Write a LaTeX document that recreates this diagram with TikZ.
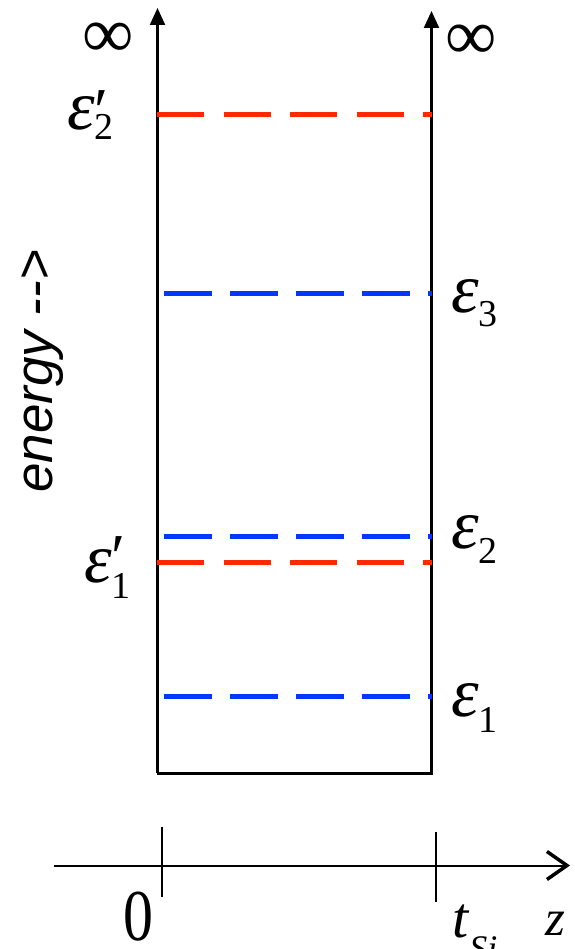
\documentclass[tikz,border=0pt]{standalone}
\usepackage{fontspec}
\setmainfont{Liberation Serif}
\newfontfamily\sansfam{Liberation Sans}
\usetikzlibrary{arrows.meta}
\definecolor{lvred}{RGB}{255,40,0}
\definecolor{lvblue}{RGB}{0,56,255}
% level label: digit, subscript drop
\newcommand\levlab[2]{\fontsize{70}{70}\selectfont\textit{ε}\raisebox{-#2}{\fontsize{38}{38}\selectfont #1}}
% primed level label: digit, subscript drop, prime raise
\newcommand\levlabp[3]{\fontsize{70}{70}\selectfont\textit{ε}\rlap{\raisebox{#3}{\fontsize{64}{64}\selectfont ′}}\raisebox{-#2}{\fontsize{38}{38}\selectfont #1}}
\begin{document}
\begin{tikzpicture}[x=1pt,y=-1pt,
  wall/.style={line width=2.2pt,-{Triangle[length=17pt,width=15pt]}},
  redlev/.style={lvred,line width=5pt,dash pattern=on 47pt off 19.5pt},
  bluelev/.style={lvblue,line width=5pt,dash pattern=on 48pt off 18pt},
  lab/.style={inner sep=0pt,anchor=base west},
  inf/.style={inner sep=0pt,font=\fontsize{72}{72}\selectfont},
  tick/.style={line width=2pt}]
\useasboundingbox (0,0) rectangle (574,949);
% well walls
\coordinate (lb) at (157.5,773);
\coordinate (lt) at (157.5,8);
\coordinate (rb) at (431.5,773);
\coordinate (rt) at (431.5,11);
\draw[wall] (lb) -- (lt);
\draw[wall] (rb) -- (rt);
\draw[line width=3pt] ([xshift=-1pt]lb) -- ([xshift=1pt]rb);
% levels
\coordinate (r2a) at (157,114.5); \coordinate (r2b) at (432,114.5);
\coordinate (b3a) at (164,293);   \coordinate (b3b) at (432,293);
\coordinate (b2a) at (164,536);   \coordinate (b2b) at (432,536);
\coordinate (r1a) at (157,562);   \coordinate (r1b) at (432,562);
\coordinate (b1a) at (164,696);   \coordinate (b1b) at (432,696);
\draw[redlev] (r2a) -- (r2b);
\draw[bluelev] (b3a) -- (b3b);
\draw[bluelev] (b2a) -- (b2b);
\draw[redlev] (r1a) -- (r1b);
\draw[bluelev] (b1a) -- (b1b);
% labels
\node[inf] (infl) at (108,40) {∞};
\node[inf] (infr) at (471,42) {∞};
\node[lab] (e2p) at (67,130) {\levlabp{2}{10pt}{-3pt}};
\node[lab] (e1p) at (84,582) {\levlabp{1}{16pt}{4pt}};
\node[lab] (e3) at (451,312) {\levlab{3}{14pt}};
\node[lab] (e2) at (451,548) {\levlab{2}{15pt}};
\node[lab] (e1) at (451,716) {\levlab{1}{16pt}};
\node[lab,rotate=90,font=\sansfam\itshape\fontsize{53}{53}\selectfont] (en) at (52,493) {energy -{}->};
% z axis
\coordinate (ax0) at (54,865.5);
\coordinate (ax1) at (570,865.5);
\draw[line width=2pt,-{Straight Barb[length=20pt,width=28pt,line width=3.5pt]}] (ax0) -- (ax1);
\coordinate (t0a) at (162,827); \coordinate (t0b) at (162,897);
\coordinate (t1a) at (435.5,832); \coordinate (t1b) at (435.5,902);
\draw[tick] (t0a) -- (t0b);
\draw[tick] (t1a) -- (t1b);
\node[inner sep=0pt,anchor=base,font=\fontsize{73}{73}\selectfont] (zero) at (138,940) {\scalebox{0.82}[1]{0}};
\node[lab] (tsi) at (452,937) {\fontsize{58}{58}\selectfont\textit{t}\raisebox{-23pt}{\fontsize{36}{36}\selectfont\textit{Si}}};
\node[lab] (zl) at (545,935) {\fontsize{51}{51}\selectfont\textit{z}};
\end{tikzpicture}
\end{document}
